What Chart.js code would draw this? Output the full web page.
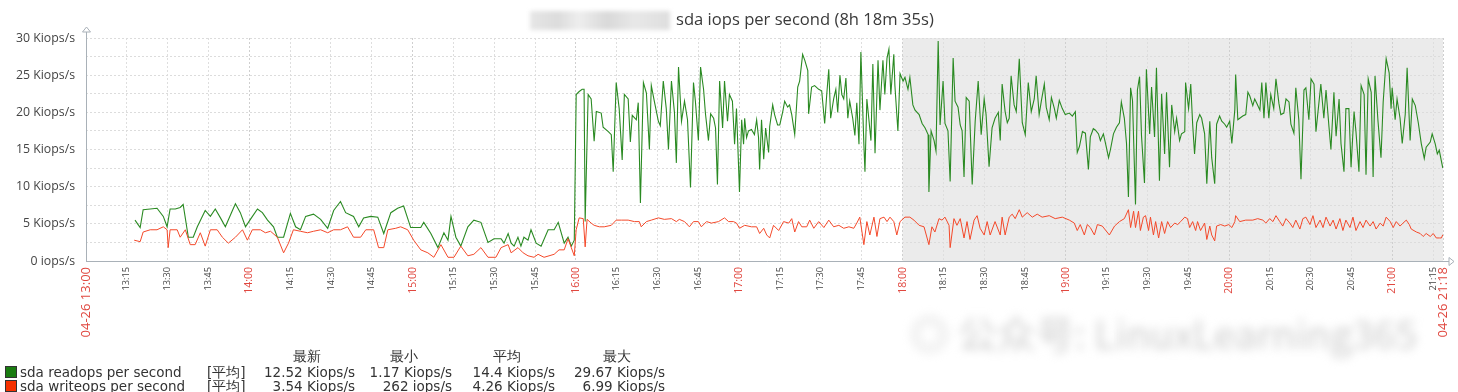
<!DOCTYPE html>
<html><head><meta charset="utf-8">
<script src="https://cdn.jsdelivr.net/npm/chart.js@4.4.1/dist/chart.umd.min.js"></script>
<style>
html,body{margin:0;padding:0;background:#fff;overflow:hidden;}
#wrap{position:relative;width:1458px;height:392px;overflow:hidden;}
canvas{position:absolute;left:0;top:0;}
.t{position:absolute;font-family:"Open Sans",sans-serif;color:#333;white-space:nowrap;}
#title{left:676px;top:8px;font-size:16.6px;line-height:22px;color:#3a3a3a;}
#hostblur{position:absolute;left:530px;top:11px;width:140px;height:19px;filter:blur(2px);
  background:linear-gradient(90deg,#e6e6e6 0%,#dcdcdc 20%,#eeeeee 35%,#d9d9d9 55%,#e8e8e8 75%,#dedede 100%);}
#wm{position:absolute;left:910px;top:304px;font-family:"Noto Sans CJK SC","Open Sans",sans-serif;font-size:39px;color:#cdcdcd;filter:blur(5px);white-space:nowrap;}
.lg{font-family:"DejaVu Sans",sans-serif;font-size:13.5px;line-height:14px;color:#333;}
.sq{position:absolute;width:10px;height:10px;border:1px solid #333;}
</style></head>
<body><div id="wrap">
<canvas id="c" width="1458" height="392"></canvas>
<div id="hostblur"></div>
<div id="title" class="t">sda iops per second (8h 18m 35s)</div>
<div id="wm">◎ 公众号: LinuxLearning365</div>
<div id="legend"></div>
</div>
<script>
// ---- data (minutes after 04-26 13:00, Kiops/s) ----
const readPoints = [
[18.0,5.5],[19.9,4.5],[21.0,6.9],[23.6,7.0],[26.1,7.1],[28.4,6.0],[29.8,4.6],[30.9,7.0],[32.8,7.0],[34.6,7.2],
[35.7,7.6],[37.6,3.2],[39.4,3.2],[40.9,4.6],[43.8,6.8],[45.7,6.0],[47.5,7.0],[49.4,5.8],[51.2,4.6],[53.8,6.8],
[54.9,7.7],[56.7,6.5],[58.6,4.6],[60.4,5.6],[63.0,7.0],[64.8,6.5],[66.7,5.5],[68.9,4.6],[70.3,3.2],[72.6,3.2],
[75.1,6.4],[77.0,4.6],[78.8,4.2],[80.7,6.0],[83.6,6.3],[86.2,5.6],[88.8,4.4],[91.0,6.8],[93.5,8.0],[95.4,6.5],
[98.3,6.0],[100.2,4.6],[102.0,5.8],[104.6,6.0],[107.2,5.9],[109.4,3.7],[112.0,6.5],[114.5,7.1],[116.7,7.4],[119.3,4.5],
[123.0,4.5],[124.1,5.2],[126.7,3.7],[129.3,1.8],[131.5,3.8],[133.0,2.8],[134.1,6.0],[135.9,3.2],[137.7,2.0],[140.3,4.6],
[142.5,5.5],[145.1,5.2],[147.7,2.5],[149.9,3.0],[152.5,3.0],[153.6,2.4],[155.1,3.7],[156.2,2.4],[157.3,2.0],[158.7,3.2],
[159.8,2.0],[160.9,3.2],[162.4,2.8],[163.5,4.2],[165.4,2.4],[167.2,2.0],[169.8,4.2],[172.0,4.2],[173.5,5.2],[175.7,2.4],
[177.1,3.2],[178.3,2.0],[179.4,2.8],[180.1,22.4],[181.2,22.8],[182.3,23.1],[183.0,23.1],[183.4,5.3],[184.5,22.4],[185.6,21.8],
[186.7,16.1],[187.5,20.1],[189.3,19.9],[190.0,18.0],[191.9,17.4],[193.0,17.0],[193.7,12.0],[194.8,24.0],[195.9,20.5],[197.0,13.6],
[197.8,22.4],[199.2,21.8],[200.0,16.0],[200.7,19.6],[202.2,19.0],[202.9,21.3],[203.7,7.8],[204.8,24.0],[205.9,22.6],[207.0,15.0],
[207.7,23.6],[208.8,21.5],[210.3,18.8],[211.0,18.2],[212.1,24.2],[213.2,20.5],[214.0,15.0],[215.1,24.2],[216.2,20.0],[216.9,13.2],
[217.7,26.1],[218.8,18.8],[219.9,21.5],[221.0,19.0],[222.1,9.9],[223.2,24.0],[223.9,21.5],[225.0,16.2],[225.8,26.1],[226.9,23.1],
[227.6,19.8],[228.7,16.2],[229.5,19.8],[230.6,19.2],[231.3,17.9],[232.0,10.3],[232.8,24.2],[233.9,17.9],[234.6,24.2],[235.7,18.8],
[236.4,22.4],[237.5,21.5],[238.3,15.7],[239.0,20.5],[240.1,9.3],[240.9,19.0],[241.6,15.7],[242.0,19.2],[242.7,16.6],[243.4,17.5],
[244.5,17.7],[245.6,17.0],[246.4,19.0],[247.1,16.6],[247.5,12.3],[248.2,19.0],[249.0,13.7],[249.7,17.9],[250.8,14.6],[251.2,18.1],
[252.3,21.0],[253.0,19.7],[254.1,18.3],[254.9,18.3],[256.0,20.1],[256.7,21.5],[257.8,20.7],[258.5,21.0],[259.3,19.7],[260.4,17.0],
[261.5,23.4],[262.2,24.2],[263.3,27.8],[264.1,27.0],[265.2,25.6],[265.5,19.8],[266.6,23.4],[267.7,23.6],[269.2,23.1],[270.3,22.9],
[271.4,18.5],[272.2,22.6],[272.9,25.8],[273.6,19.2],[274.7,21.8],[275.5,23.1],[276.2,20.0],[277.0,25.0],[277.7,22.4],[278.4,21.8],
[279.2,24.6],[279.9,19.2],[280.6,21.5],[281.7,19.2],[282.5,16.9],[283.2,21.3],[284.0,15.7],[284.7,28.1],[285.8,15.7],[286.2,12.0],
[286.9,21.8],[287.6,19.2],[288.4,16.2],[289.1,26.5],[289.9,14.5],[291.0,27.0],[291.7,20.3],[292.8,27.0],[293.5,22.4],[294.3,27.3],
[295.0,28.5],[295.7,22.4],[296.8,27.8],[297.2,23.6],[298.3,17.5],[299.1,25.2],[300.2,24.2],[300.9,24.7],[302.0,23.1],[302.7,24.7],
[303.8,21.0],[304.6,20.3],[306.1,19.7],[307.2,18.5],[308.3,17.9],[309.4,17.0],[309.7,9.3],[310.5,17.5],[311.6,16.2],[312.3,14.8],
[313.1,29.6],[313.8,18.3],[314.9,24.2],[315.6,18.5],[316.7,17.5],[317.5,10.7],[318.6,27.3],[319.3,21.5],[320.4,20.7],[321.2,18.3],
[321.9,17.5],[322.6,11.3],[323.4,22.0],[324.5,21.5],[325.6,10.3],[326.7,18.8],[327.8,24.2],[328.9,17.0],[330.0,21.8],[330.7,19.7],
[331.8,12.7],[332.9,17.9],[334.0,19.2],[335.2,20.0],[335.9,16.2],[336.6,23.8],[337.7,20.1],[338.5,18.6],[339.2,19.2],[339.9,24.9],
[341.0,21.0],[341.8,20.1],[342.9,27.2],[344.0,18.6],[345.1,17.0],[346.2,24.0],[347.3,20.1],[348.4,21.8],[349.1,24.9],[350.2,19.7],
[351.0,21.5],[352.1,23.8],[352.8,20.7],[353.9,19.0],[354.7,22.0],[355.8,20.5],[356.5,19.2],[357.6,21.6],[358.7,20.5],[359.8,19.7],
[361.3,19.9],[362.4,19.5],[363.5,20.1],[364.2,14.6],[365.0,15.4],[366.1,17.4],[367.2,17.2],[368.3,12.3],[369.0,16.7],[370.1,17.8],
[370.9,17.6],[372.0,17.1],[372.7,16.2],[373.8,17.1],[374.6,15.8],[375.7,13.9],[376.4,15.0],[377.5,17.1],[378.6,18.0],[379.7,18.6],
[380.4,21.4],[381.5,19.2],[382.3,15.8],[383.0,8.6],[383.8,23.3],[384.5,21.6],[385.6,7.6],[386.3,23.0],[387.1,24.8],[387.8,16.9],
[388.9,10.5],[389.6,25.8],[390.8,17.1],[391.5,23.4],[392.6,16.7],[393.3,26.0],[394.4,10.8],[395.2,22.5],[396.3,14.4],[397.0,22.7],
[398.1,12.6],[398.9,21.0],[400.0,17.4],[400.7,19.2],[401.8,16.2],[402.5,17.1],[403.7,17.4],[404.0,24.0],[405.1,20.5],[405.9,23.8],
[406.6,18.4],[407.3,14.4],[408.1,18.6],[409.2,19.7],[409.9,19.2],[411.0,17.1],[411.8,10.4],[412.9,18.8],[413.6,13.9],[414.7,10.4],
[415.4,18.4],[416.5,19.5],[417.3,18.8],[418.4,18.4],[419.1,18.0],[420.2,18.8],[421.0,15.8],[422.1,20.4],[422.4,25.1],[423.2,19.0],
[423.9,19.2],[425.0,19.5],[426.1,19.7],[426.9,22.7],[427.6,22.2],[428.7,20.9],[429.4,21.8],[430.2,21.2],[431.3,20.3],[432.0,24.0],
[432.8,19.2],[433.5,24.0],[434.6,19.2],[435.3,22.4],[436.4,20.5],[437.2,24.5],[438.3,21.2],[439.0,19.7],[440.1,19.9],[440.9,21.8],
[442.0,21.4],[442.7,18.4],[443.8,17.2],[444.5,23.3],[445.6,19.0],[446.4,11.0],[447.5,23.0],[448.2,23.3],[449.3,19.0],[450.1,24.5],
[451.2,23.8],[451.9,17.4],[453.0,21.3],[453.7,23.8],[454.8,19.2],[455.6,23.0],[456.7,18.0],[457.4,15.0],[458.5,22.7],[459.3,16.8],
[460.4,21.8],[461.1,15.8],[462.2,12.0],[462.9,20.5],[464.0,20.5],[464.8,12.6],[465.9,20.1],[466.6,17.4],[467.7,12.0],[468.5,23.6],
[469.6,22.4],[470.3,11.6],[471.1,24.5],[472.2,22.7],[472.9,11.3],[473.6,24.9],[474.7,18.8],[475.8,13.9],[476.6,21.4],[477.7,27.2],
[478.8,25.3],[479.5,20.5],[479.9,23.3],[481.0,19.0],[481.7,21.8],[482.8,19.2],[483.6,15.8],[484.7,19.7],[485.4,26.0],[486.5,16.2],
[487.3,21.8],[488.4,20.9],[489.5,18.6],[490.6,15.8],[491.7,13.8],[492.4,15.3],[493.9,16.0],[494.6,17.1],[495.7,15.8],[496.5,14.4],
[497.2,14.9],[497.9,13.6],[498.5,12.52]
];
const writePoints = [
[17.7,2.8],[19.9,2.6],[21.0,3.9],[23.6,4.2],[26.1,4.2],[28.4,4.6],[29.8,4.2],[30.2,1.8],[30.9,4.2],[33.5,4.2],
[34.6,3.2],[36.5,4.2],[38.3,2.2],[40.1,2.2],[42.0,3.8],[43.8,2.0],[45.7,4.2],[48.2,4.2],[50.1,3.2],[52.3,2.4],
[54.9,3.2],[57.5,4.2],[59.3,2.8],[61.1,4.2],[64.1,4.2],[65.9,3.8],[67.8,4.0],[70.3,3.2],[72.6,1.1],[74.4,2.4],
[76.2,4.2],[78.8,4.0],[81.4,3.8],[83.6,4.0],[86.2,4.2],[88.8,3.8],[91.0,4.2],[93.5,4.2],[96.1,4.6],[98.3,3.2],
[100.9,3.2],[102.8,4.2],[105.7,4.2],[107.5,1.8],[109.4,1.8],[110.9,4.2],[113.8,4.4],[115.6,4.6],[118.2,4.2],[120.4,2.8],
[123.0,1.5],[125.6,1.1],[127.8,0.5],[130.4,2.2],[133.0,0.5],[135.2,0.5],[137.7,2.0],[140.3,0.7],[142.5,0.9],[145.1,1.8],
[147.7,0.5],[150.6,0.5],[152.5,1.8],[155.1,2.2],[156.2,1.1],[158.7,1.8],[160.6,1.1],[162.4,0.7],[164.6,0.5],[166.1,0.9],
[168.3,0.5],[172.0,0.9],[173.8,1.5],[175.7,1.5],[177.1,3.0],[178.3,1.8],[179.4,0.7],[180.1,4.2],[181.2,5.8],[182.7,5.7],
[183.4,1.9],[184.1,5.6],[185.6,5.1],[186.7,4.8],[188.6,4.6],[190.4,4.6],[193.0,4.8],[194.8,5.5],[196.7,5.5],[199.2,5.5],
[201.5,5.3],[203.3,5.3],[204.0,4.6],[205.9,5.3],[207.7,5.5],[210.3,5.8],[212.5,5.6],[215.1,5.7],[216.9,5.3],[218.0,5.6],
[219.9,5.3],[221.7,4.6],[223.2,5.3],[225.0,5.3],[226.1,4.6],[228.0,5.3],[229.8,5.1],[232.4,5.3],[234.6,5.8],[236.1,5.3],
[237.9,5.3],[239.0,5.1],[240.1,4.4],[242.0,4.8],[244.5,4.6],[246.4,4.6],[247.5,3.7],[249.0,4.4],[250.1,3.5],[251.2,3.1],
[252.6,4.8],[254.5,4.1],[256.3,5.3],[258.2,5.1],[259.3,5.7],[260.4,3.9],[261.8,5.3],[263.0,4.6],[264.8,4.6],[265.9,5.5],
[267.4,4.4],[269.2,5.3],[271.1,4.5],[272.9,5.5],[274.7,4.6],[276.6,4.8],[278.4,4.4],[280.3,4.6],[282.1,4.4],[283.2,5.1],
[284.3,5.9],[285.8,2.2],[286.9,5.3],[288.0,3.5],[289.5,5.9],[290.6,3.3],[291.7,5.7],[293.2,5.9],[294.3,5.3],[295.4,5.9],
[296.8,5.3],[297.9,3.5],[299.1,5.3],[300.9,5.9],[302.7,5.9],[304.2,5.5],[306.1,4.8],[307.9,4.6],[309.7,2.2],[310.8,4.6],
[311.9,3.9],[313.4,5.7],[314.5,5.5],[315.6,5.9],[317.1,4.8],[317.5,1.8],[318.9,5.7],[320.0,4.8],[321.2,5.7],[322.6,3.1],
[323.7,5.3],[324.8,2.9],[326.3,5.5],[327.4,6.1],[328.5,4.4],[330.0,3.5],[331.1,5.3],[332.2,3.5],[334.0,5.3],[335.9,3.5],
[336.6,5.9],[337.7,3.5],[339.2,5.9],[340.3,6.3],[341.4,5.7],[342.9,6.9],[344.0,5.9],[345.8,6.5],[347.7,5.9],[349.5,6.3],
[351.3,5.9],[353.9,6.1],[356.1,5.7],[358.7,5.9],[361.3,5.5],[363.1,5.1],[364.2,4.1],[365.3,4.9],[366.8,3.5],[367.9,4.9],
[369.0,4.5],[370.5,3.5],[371.6,4.9],[373.4,4.7],[376.0,3.5],[377.9,4.7],[379.7,5.3],[381.5,5.7],[383.0,6.9],[383.8,4.5],
[384.9,6.7],[385.6,4.5],[386.7,6.7],[387.4,4.1],[388.5,5.9],[389.3,6.1],[390.4,4.1],[391.1,5.9],[392.2,3.5],[393.0,5.3],
[394.1,3.1],[395.2,5.3],[396.3,3.7],[397.4,5.3],[398.5,4.5],[400.0,5.1],[401.1,4.9],[402.2,5.3],[403.7,5.9],[404.7,5.7],
[405.5,4.5],[406.6,5.3],[407.7,4.1],[408.4,5.3],[409.5,4.1],[411.0,5.1],[411.8,2.9],[412.9,4.7],[413.6,3.5],[414.7,2.7],
[415.4,4.7],[416.9,4.9],[418.4,4.7],[419.9,4.9],[421.0,4.5],[422.1,5.3],[422.4,6.1],[423.9,5.3],[426.1,5.5],[428.7,5.5],
[430.5,5.7],[432.4,5.5],[433.5,5.1],[434.9,5.7],[436.1,5.3],[437.2,6.1],[438.6,5.3],[439.7,4.7],[440.9,5.7],[442.3,5.1],
[443.4,4.5],[444.5,5.5],[446.0,4.3],[447.1,5.7],[448.2,5.9],[449.7,4.9],[450.8,6.1],[451.9,4.5],[453.4,5.5],[454.5,4.5],
[455.6,5.9],[457.1,4.7],[458.2,5.5],[459.3,4.3],[460.7,5.7],[461.8,4.1],[462.9,5.5],[464.4,4.5],[465.5,5.9],[466.6,4.1],
[468.1,5.3],[469.2,4.5],[470.3,5.5],[471.8,4.7],[472.9,5.3],[474.0,4.3],[475.5,5.1],[476.6,4.7],[477.7,5.9],[479.2,5.3],
[480.3,4.5],[481.4,5.3],[482.8,4.7],[483.9,5.1],[485.1,5.5],[486.2,4.9],[486.9,4.3],[488.8,3.9],[490.2,3.7],[491.3,3.3],
[492.4,3.7],[493.9,3.3],[495.0,3.7],[496.1,3.1],[497.3,3.1],[498.0,3.1],[498.5,3.54]
];
const seriesNames = ['sda readops per second','sda writeops per second'];
const seriesColors = ['#2a8a22','#f4492a'];
const swatchColors = ['#1A7C11','#F63100'];
const statHeaders = ['最新','最小','平均','最大'];
const statValues = [
  ['12.52 Kiops/s','1.17 Kiops/s','14.4 Kiops/s','29.67 Kiops/s'],
  ['3.54 Kiops/s','262 iops/s','4.26 Kiops/s','6.99 Kiops/s']
];
const xTickMinutes = [0,15,30,45,60,75,90,105,120,135,150,165,180,195,210,225,240,255,270,285,300,315,330,345,360,375,390,405,420,435,450,465,480,495,498.58];
const xTickLabels = ['04-26 13:00','13:15','13:30','13:45','14:00','14:15','14:30','14:45','15:00','15:15','15:30','15:45','16:00','16:15','16:30','16:45','17:00','17:15','17:30','17:45','18:00','18:15','18:30','18:45','19:00','19:15','19:30','19:45','20:00','20:15','20:30','20:45','21:00','21:15','04-26 21:18'];
const yTickValues = [0,2.5,5,7.5,10,12.5,15,17.5,20,22.5,25,27.5,30];
const yTickLabels = ['0 iops/s','','5 Kiops/s','','10 Kiops/s','','15 Kiops/s','','20 Kiops/s','','25 Kiops/s','','30 Kiops/s'];
const nonWorkStart = 300; // 18:00
const periodEnd = 498.58;

// ---- legend (HTML text) ----
(function(){
  const L = document.getElementById('legend');
  const add = (html, style) => { const d=document.createElement('div'); d.className='t lg'; d.style.cssText=style; d.innerHTML=html; L.appendChild(d); };
  const valRight = [355,452,555,665];
  statHeaders.forEach((h,i)=> add(h, `left:${valRight[i]-94}px;width:92px;text-align:center;top:349px;`));
  seriesNames.forEach((n,r)=>{
    const top = 365 + r*14;
    const sq=document.createElement('div'); sq.className='sq'; sq.style.cssText=`left:5px;top:${top+1}px;background:${swatchColors[r]};`; L.appendChild(sq);
    add(n, `left:20px;top:${top}px;`);
    add('[平均]', `left:207px;top:${top}px;`);
    statValues[r].forEach((v,i)=> add(v, `left:${valRight[i]-120}px;width:120px;text-align:right;top:${top}px;`));
  });
})();

// ---- chart ----
const labelAt = i => (i !== undefined && xTickLabels[i]) ? xTickLabels[i] : '';
const majorLabel = l => l.endsWith(':00') || l.startsWith('04-26');
const bgPlugin = {
  id:'bg',
  beforeDraw(chart){
    const {ctx, chartArea:a, scales:{x}} = chart;
    const x0 = x.getPixelForValue(nonWorkStart);
    ctx.save(); ctx.fillStyle='#ebebeb'; ctx.fillRect(x0, a.top, a.right-x0, a.bottom-a.top); ctx.restore();
  },
  afterDraw(chart){
    const {ctx, chartArea:a} = chart;
    ctx.save(); ctx.strokeStyle='#a9b1b8'; ctx.fillStyle='#ffffff'; ctx.lineWidth=1;
    ctx.beginPath(); ctx.moveTo(a.left+0.5, a.bottom+0.5); ctx.lineTo(a.left+0.5, a.top-7); ctx.stroke();
    ctx.beginPath(); ctx.moveTo(a.left-3.5, a.top-6); ctx.lineTo(a.left+0.5, a.top-11); ctx.lineTo(a.left+4.5, a.top-6); ctx.closePath(); ctx.fill(); ctx.stroke();
    ctx.beginPath(); ctx.moveTo(a.left, a.bottom+0.5); ctx.lineTo(a.right+6, a.bottom+0.5); ctx.stroke();
    ctx.beginPath(); ctx.moveTo(a.right+6, a.bottom-3.5); ctx.lineTo(a.right+11, a.bottom+0.5); ctx.lineTo(a.right+6, a.bottom+4.5); ctx.closePath(); ctx.fill(); ctx.stroke();
    ctx.restore();
  }
};

new Chart(document.getElementById('c'), {
  type:'line',
  data:{datasets:[
    {label:seriesNames[0], data:readPoints.map(p=>({x:p[0],y:p[1]})), borderColor:seriesColors[0], borderWidth:1.1, pointRadius:0, tension:0, fill:false, order:1},
    {label:seriesNames[1], data:writePoints.map(p=>({x:p[0],y:p[1]})), borderColor:seriesColors[1], borderWidth:1, pointRadius:0, tension:0, fill:false, order:0}
  ]},
  options:{
    responsive:false, animation:false, devicePixelRatio:1,
    layout:{padding:{top:38,right:15,left:0,bottom:0}},
    plugins:{legend:{display:false}, tooltip:{enabled:false}, title:{display:false}},
    scales:{
      x:{type:'linear', min:0, max:periodEnd,
        afterBuildTicks:s=>{ s.ticks = xTickMinutes.map(v=>({value:v})); },
        afterFit:s=>{ s.height = 131; s.paddingLeft = 0; s.paddingRight = 0; },
        grid:{drawTicks:false, color:c=>{const i=c.tick?xTickMinutes.indexOf(c.tick.value):-1; return (i>=0 && majorLabel(xTickLabels[i]))?'#cfcfcf':'#dedede';}},
        border:{display:false, dash:[2,2]},
        ticks:{autoSkip:false, minRotation:90, maxRotation:90, padding:6,
          callback:(v,i)=>xTickLabels[i],
          color:c=>majorLabel(labelAt(c.index))?'#e0473f':'#444',
          font:c=>{const l=labelAt(c.index); return {family:'"Open Sans", sans-serif', size: l.startsWith('04-26')?13:(l.endsWith(':00')?10.5:9.2)};}
        }
      },
      y:{min:0, max:30,
        afterBuildTicks:s=>{ s.ticks = yTickValues.map(v=>({value:v})); },
        afterFit:s=>{ s.width = 86; s.paddingTop = 0; s.paddingBottom = 0; },
        grid:{drawTicks:false, color:'#dcdcdc'},
        border:{display:false, dash:[2,2]},
        ticks:{padding:11, color:'#444', font:{family:'"Open Sans", sans-serif', size:12.3},
          callback:(v,i)=>yTickLabels[i]}
      }
    }
  },
  plugins:[bgPlugin]
});
</script>
</body></html>
